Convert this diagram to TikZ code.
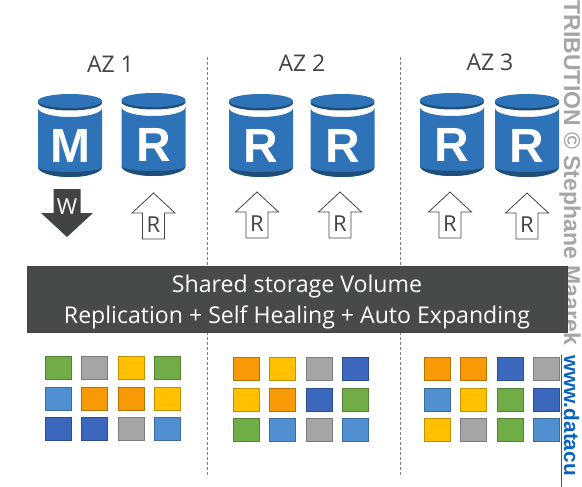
\documentclass[tikz,border=0pt]{standalone}
\usepackage{fontspec}
\setmainfont{Open Sans}
\newfontfamily\boldsans{Liberation Sans}
\usetikzlibrary{calc,positioning}
\definecolor{bluex}{HTML}{2E73B8}
\definecolor{deepx}{HTML}{1F4E79}
\definecolor{darkx}{HTML}{464A4A}
\definecolor{inkx}{HTML}{404444}
\definecolor{grnx}{HTML}{70AD47}
\definecolor{gryx}{HTML}{A5A5A5}
\definecolor{ylwx}{HTML}{FFC000}
\definecolor{lblx}{HTML}{5090D0}
\definecolor{orgx}{HTML}{F79A05}
\definecolor{blux}{HTML}{3B67BD}
\definecolor{urlx}{HTML}{0563C1}
\tikzset{
  az/.style={font=\fontsize{23}{26}\selectfont,text=inkx,inner sep=0pt},
  sep/.style={gray,densely dashed,thin},
  cell/.style={draw=#1!75!black,fill=#1,line width=1.1pt,minimum width=26pt,minimum height=23pt,inner sep=0pt},
  band/.style={fill=darkx,draw=inkx,minimum width=540pt,minimum height=66pt,inner sep=0pt},
  bandtxt/.style={align=center,inner sep=0pt,text=white,font=\fontsize{23.1}{31}\selectfont},
  wmark/.style={text=gryx,font=\boldsans\bfseries\fontsize{23}{26}\selectfont,rotate=-90,anchor=base west,inner sep=0pt},
  pics/cyl/.style={code={
    \fill[bluex] (-32,14) arc[start angle=180,end angle=0,x radius=32,y radius=9]
      -- (32,73) arc[start angle=0,end angle=180,x radius=32,y radius=10] -- cycle;
    \fill[deepx] (-32,73) arc[start angle=180,end angle=0,x radius=32,y radius=10]
      arc[start angle=0,end angle=180,x radius=32,y radius=5] -- cycle;
    \fill[deepx] (0,9) ellipse[x radius=32,y radius=7.5];
    \fill[bluex] (0,7) ellipse[x radius=32,y radius=7];
    \node[text=white,inner sep=0pt,font=\boldsans\bfseries\fontsize{48}{48}\selectfont] (-lbl) at (0,52) {#1};
  }},
  pics/up/.style={code={
    \draw[inkx,fill=white,thick] (0,0)--(21.5,20)--(11,20)--(11,46)--(-11,46)--(-11,20)--(-21.5,20)--cycle;
    \node[text=inkx,inner sep=0pt,font=\fontsize{22}{24}\selectfont] (-lbl) at (0,32) {#1};
  }},
  pics/down/.style={code={
    \fill[inkx] (-13.5,0)--(13.5,0)--(13.5,24)--(26,24)--(0,48)--(-26,24)--(-13.5,24)--cycle;
    \node[text=white,inner sep=0pt,font=\fontsize{22}{24}\selectfont] (-lbl) at (0,18) {#1};
  }}
}

\begin{document}
\begin{tikzpicture}[x=1pt,y=-1pt]
\useasboundingbox (0,0) rectangle (582,487);
\coordinate (sa) at (207,57);
\coordinate (sb) at (207,477);
\coordinate (sc) at (400,57);
\coordinate (sd) at (400,477);
\draw[sep] (sa)--(sb);
\draw[sep] (sc)--(sd);
\node[az] (az1) at (110.5,64) {AZ 1};
\node[az] (az2) at (302,63) {AZ 2};
\node[az] (az3) at (490,62) {AZ 3};
% databases
\pic (m1) at (70,94) {cyl=M};
\pic (r1) at (153.5,93) {cyl=R};
\pic (r2) at (261,94) {cyl=R};
\pic (r3) at (342.5,94) {cyl=R};
\pic (r4) at (452,93) {cyl=R};
\pic (r5) at (527,94) {cyl=R};
% read and write arrows
\pic (w1) at (67,189) {down=W};
\pic (a1) at (153.5,193) {up=R};
\pic (a2) at (257,192) {up=R};
\pic (a3) at (340,192) {up=R};
\pic (a4) at (450,192) {up=R};
\pic (a5) at (527,193) {up=R};
\node[wmark] (wm) at (564,0.5) {TRIBUTION © Stephane Maarek};
\node[band] (vol) at (297,299) {};
\node[bandtxt] (voltxt) at ($(vol)+(0,3)$) {Shared storage Volume\\Replication + Self Healing + Auto Expanding};
% blocks
\foreach \gx/\gy/\gn/\lst in {
  45/356/a/{grnx,gryx,ylwx,grnx,lblx,orgx,orgx,ylwx,blux,blux,gryx,lblx},
  233/357/b/{orgx,ylwx,gryx,blux,ylwx,orgx,blux,grnx,grnx,lblx,gryx,lblx},
  424/357/c/{orgx,orgx,blux,gryx,lblx,ylwx,grnx,blux,ylwx,gryx,grnx,lblx}}{
  \foreach \c [count=\n from 0] in \lst {
    \pgfmathsetmacro\px{\gx+13.5+36.4*mod(\n,4)}
    \pgfmathsetmacro\py{\gy+12+30.7*int(\n/4)}
    \node[cell=\c] (\gn\n) at (\px,\py) {};
  }
}
\node[wmark,text=urlx,font=\boldsans\bfseries\fontsize{20.8}{24}\selectfont] (url) at (564,355) {www.datacu};
\coordinate (ua) at (561,355);
\coordinate (ub) at (561,487);
\draw[urlx,thick] (ua)--(ub);
\end{tikzpicture}
\end{document}
